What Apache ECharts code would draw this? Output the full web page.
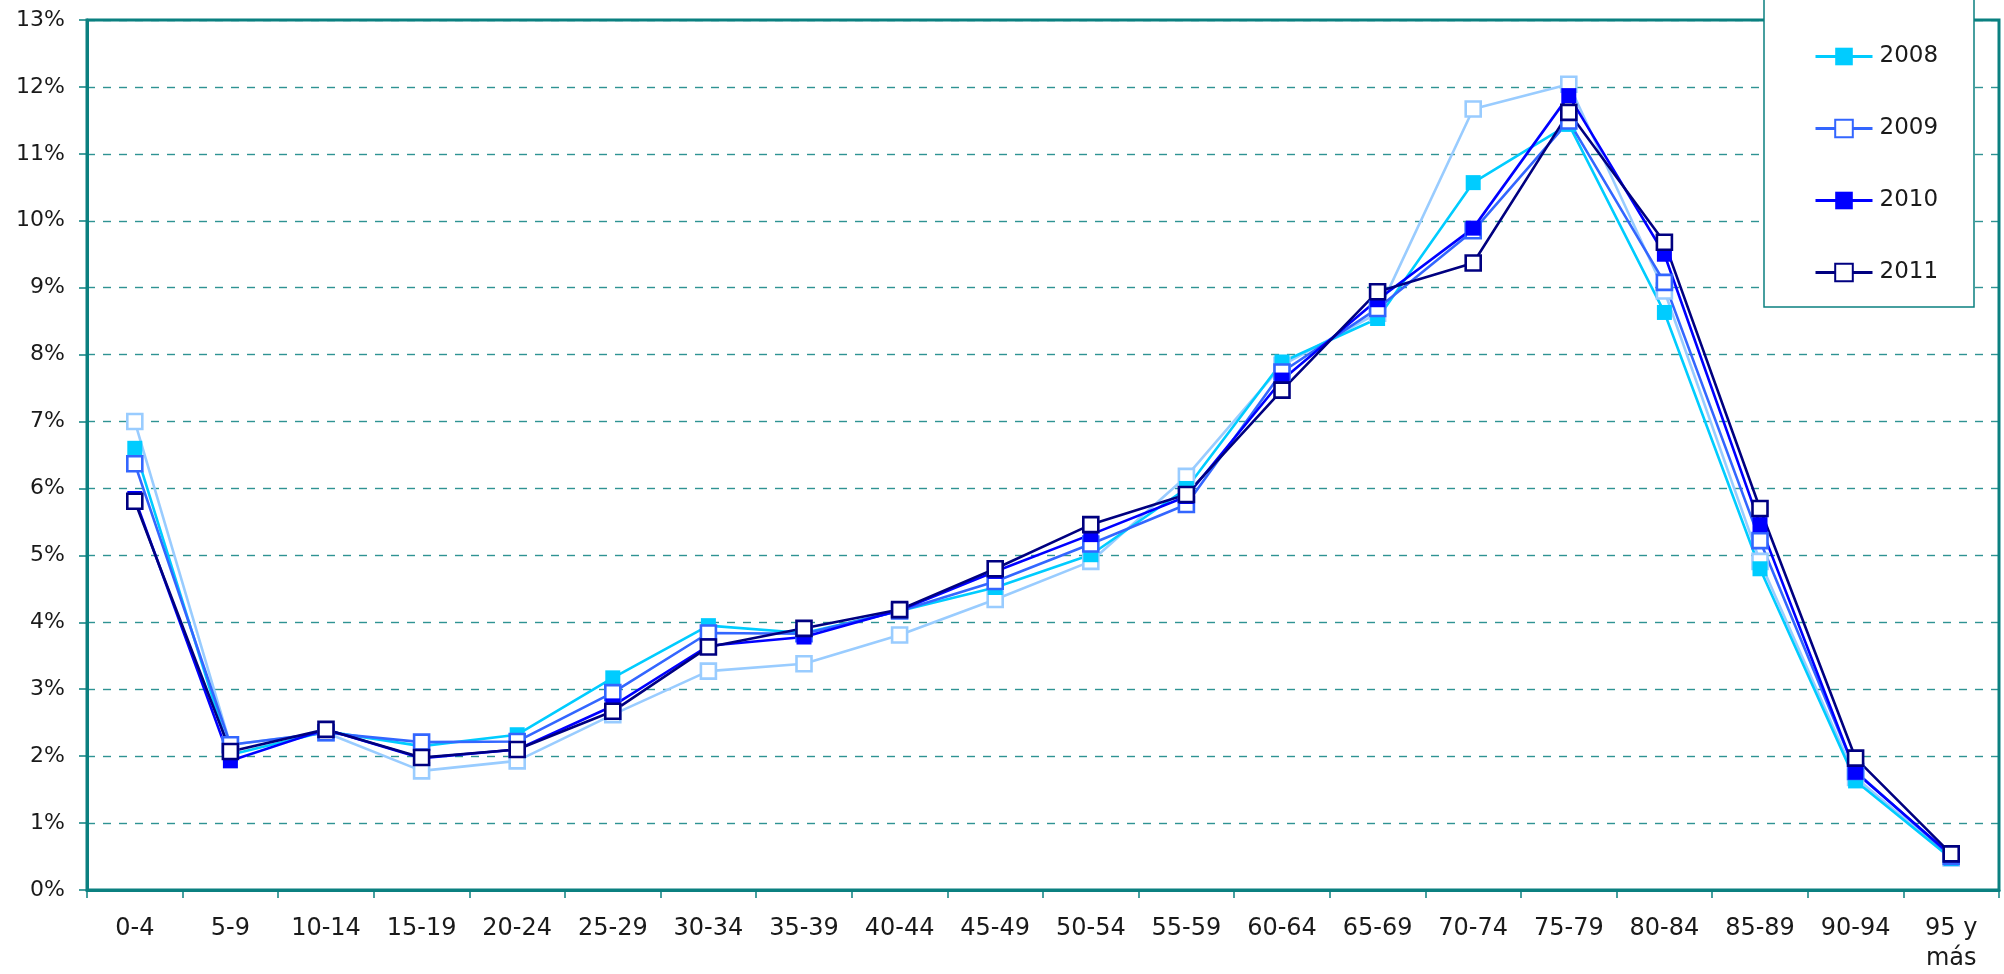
<!DOCTYPE html>
<html lang="es">
<head>
    <meta charset="UTF-8">
    <title>Distribución por edad</title>
    <script src="https://cdn.jsdelivr.net/npm/echarts@6/dist/echarts.min.js"></script>
</head>
<body style="margin: 0; background: #fff;">
<div id="container" style="width: 2004px; height: 974px;"></div>
<script type="text/javascript">
    // grupos de edad
    const ageGroups = ['0-4', '5-9', '10-14', '15-19', '20-24', '25-29', '30-34', '35-39', '40-44', '45-49',
        '50-54', '55-59', '60-64', '65-69', '70-74', '75-79', '80-84', '85-89', '90-94', '95 y\nmás'];

    // porcentajes (%) por año
    const y2007 = [7.00, 2.17, 2.35, 1.78, 1.93, 2.62, 3.27, 3.38, 3.81, 4.34, 4.91, 6.18, 7.84, 8.62, 11.67, 12.04, 8.95, 4.91, 1.68, 0.48];
    const y2008 = [6.60, 2.02, 2.37, 2.15, 2.32, 3.17, 3.95, 3.84, 4.17, 4.52, 5.01, 6.00, 7.89, 8.54, 10.57, 11.44, 8.63, 4.80, 1.63, 0.47];
    const y2009 = [6.37, 2.17, 2.35, 2.21, 2.22, 2.95, 3.84, 3.83, 4.17, 4.61, 5.17, 5.76, 7.74, 8.69, 9.85, 11.49, 9.08, 5.22, 1.77, 0.50];
    const y2010 = [5.85, 1.93, 2.40, 1.97, 2.10, 2.75, 3.65, 3.78, 4.18, 4.76, 5.31, 5.88, 7.62, 8.82, 9.89, 11.87, 9.50, 5.46, 1.76, 0.52];
    const y2011 = [5.81, 2.07, 2.40, 1.98, 2.10, 2.67, 3.63, 3.91, 4.19, 4.80, 5.46, 5.91, 7.47, 8.94, 9.37, 11.62, 9.68, 5.70, 1.97, 0.54];

    const teal = '#0b8080';
    const font = 'DejaVu Sans';

    function lineSeries(name, data, color, filled) {
        return {
            name: name,
            type: 'line',
            data: data,
            symbol: 'rect',
            symbolSize: 15,
            lineStyle: {color: color, width: 2.6},
            itemStyle: filled
                ? {color: color, borderColor: color, borderWidth: 0}
                : {color: '#ffffff', borderColor: color, borderWidth: 2.6},
            emphasis: {disabled: true},
            animation: false
        };
    }

    let dom = document.getElementById('container');
    let myChart = echarts.init(dom);

    let option = {
        backgroundColor: '#ffffff',
        textStyle: {fontFamily: font},
        grid: {
            left: 87, right: 5, top: 20, bottom: 82,
            show: true, borderColor: teal, borderWidth: 3, backgroundColor: 'transparent'
        },
        xAxis: {
            type: 'category',
            data: ageGroups,
            boundaryGap: true,
            axisLine: {lineStyle: {color: teal, width: 3}},
            axisTick: {show: true, length: 8, lineStyle: {color: teal, width: 1.5}},
            axisLabel: {interval: 0, margin: 24, fontSize: 24, color: '#1a1a1a', fontFamily: font, lineHeight: 30}
        },
        yAxis: {
            type: 'value',
            min: 0,
            max: 13,
            interval: 1,
            axisLine: {show: true, lineStyle: {color: teal, width: 3}},
            axisTick: {show: true, length: 8, lineStyle: {color: teal, width: 1.5}},
            axisLabel: {formatter: '{value}%', margin: 22, fontSize: 22, color: '#1a1a1a', fontFamily: font},
            splitLine: {show: true, lineStyle: {color: teal, width: 1.4, type: [8, 8], opacity: 0.85}}
        },
        legend: {
            data: ['2008', '2009', '2010', '2011'],
            orient: 'vertical',
            left: 1809,
            top: 40,
            itemWidth: 57,
            itemHeight: 22,
            itemGap: 49,
            z: 10,
            lineStyle: {width: 3},
            textStyle: {fontSize: 23, color: '#1a1a1a', fontFamily: font, padding: [0, 0, 0, 2]}
        },
        graphic: [{
            type: 'rect',
            z: 5,
            shape: {x: 1764, y: -5, width: 210, height: 312},
            style: {fill: '#ffffff', stroke: teal, lineWidth: 1.5}
        }],
        series: [
            lineSeries('2007', y2007, '#99ccff', false),
            lineSeries('2008', y2008, '#00ccff', true),
            lineSeries('2009', y2009, '#3366ff', false),
            lineSeries('2010', y2010, '#0000ff', true),
            lineSeries('2011', y2011, '#000080', false)
        ]
    };
    myChart.setOption(option);
</script>
</body>
</html>
